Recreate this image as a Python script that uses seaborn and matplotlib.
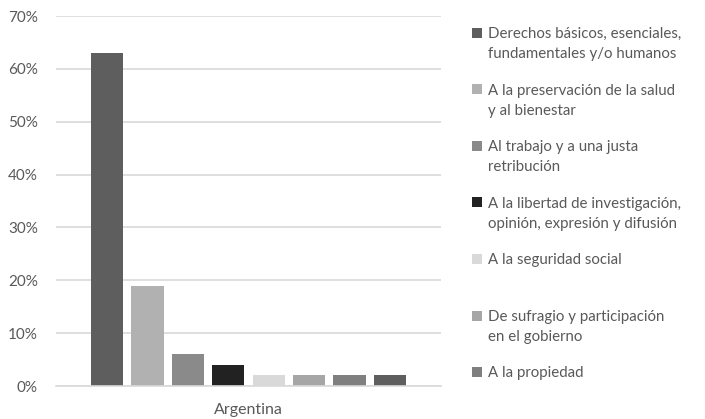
import matplotlib
matplotlib.use("Agg")
import matplotlib.pyplot as plt
import matplotlib.patches as mpatches
import seaborn as sns
import pandas as pd

country = "Argentina"
categories = [
    "Derechos básicos, esenciales,\nfundamentales y/o humanos",
    "A la preservación de la salud\ny al bienestar",
    "Al trabajo y a una justa\nretribución",
    "A la libertad de investigación,\nopinión, expresión y difusión",
    "A la seguridad social",
    "De sufragio y participación\nen el gobierno",
    "A la propiedad",
    "Otros",
]
values = [0.63, 0.19, 0.06, 0.04, 0.02, 0.02, 0.02, 0.02]
colors = ["#5e5e5e", "#b1b1b1", "#8a8a8a", "#222222", "#d9d9d9", "#a6a6a6", "#7f7f7f", "#5e5e5e"]
yticks = [0, 0.1, 0.2, 0.3, 0.4, 0.5, 0.6, 0.7]
ytick_labels = ["0%", "10%", "20%", "30%", "40%", "50%", "60%", "70%"]
legend_n = 7

df = pd.DataFrame({"pais": [country] * len(categories), "cat": categories, "val": values})

sns.set_theme(style="white")
plt.rcParams["font.family"] = ["Lato", "DejaVu Sans"]

W, H = 705, 419
fig = plt.figure(figsize=(W / 100, H / 100), dpi=100)
ax = fig.add_axes([56 / W, 1 - 386 / H, (441 - 56) / W, (386 - 16) / H])

sns.barplot(data=df, x="pais", y="val", hue="cat", hue_order=categories,
            palette=colors, width=0.84, gap=0.2, ax=ax, legend=False,
            saturation=1, edgecolor="none")

ax.set_ylim(0, 0.7)
ax.set_xlim(-0.5, 0.5)
ax.set_yticks(yticks)
ax.set_yticklabels(ytick_labels)
ax.yaxis.grid(True, color="#d9d9d9", linewidth=1.2)
ax.set_axisbelow(True)
for s in ["top", "right", "left"]:
    ax.spines[s].set_visible(False)
ax.spines["bottom"].set_color("#d9d9d9")
ax.spines["bottom"].set_linewidth(1.2)
ax.tick_params(axis="y", length=0, pad=13, labelsize=11, labelcolor="#595959")
ax.tick_params(axis="x", length=0, pad=12.5, labelsize=11.5, labelcolor="#595959")
ax.set_xlabel("")
ax.set_ylabel("")

# legend (Excel-style, equal-height entries)
for i in range(legend_n):
    yc = 33 + 56.5 * i
    fig.add_artist(mpatches.Rectangle((472 / W, 1 - (yc + 5) / H), 10 / W, 10 / H,
                                      transform=fig.transFigure, color=colors[i], lw=0))
    for j, line in enumerate(categories[i].split("\n")):
        fig.text(488 / W, 1 - (yc + 5 + 20 * j) / H, line, ha="left", va="baseline",
                 fontsize=10.8, color="#595959")

fig.savefig("out.png", dpi=100)
